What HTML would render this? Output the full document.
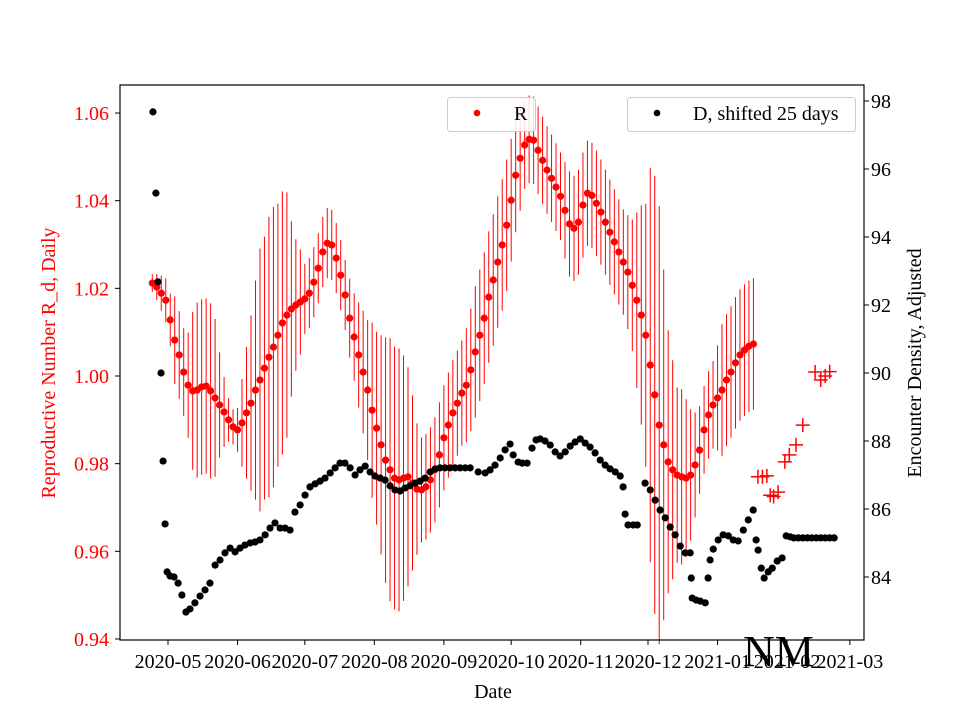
<!DOCTYPE html>
<html><head><meta charset="utf-8"><style>
body{margin:0;background:#fff}
svg{display:block;font-family:"Liberation Serif",serif}
</style></head><body>
<svg id="c" width="960" height="720" xmlns="http://www.w3.org/2000/svg"></svg>
<script>
// ---- data (day offsets from 2020-05-01) ----
const rStartDay = -7;
const rStepDays = 2;
const rValues = [1.0212,1.0203,1.0189,1.0173,1.0128,1.0082,1.0048,1.0009,0.9979,0.9966,0.9968,0.9975,0.9977,0.9966,0.9950,0.9934,0.9918,0.9900,0.9884,0.9877,0.9893,0.9916,0.9938,0.9968,0.9991,1.0018,1.0043,1.0066,1.0093,1.0121,1.0139,1.0153,1.0162,1.0169,1.0176,1.0189,1.0214,1.0246,1.0283,1.0303,1.0299,1.0269,1.0230,1.0185,1.0132,1.0089,1.0048,1.0009,0.9968,0.9922,0.9881,0.9843,0.9808,0.9786,0.9767,0.9763,0.9767,0.9770,0.9756,0.9742,0.9740,0.9747,0.9763,0.9786,0.9820,0.9859,0.9888,0.9916,0.9938,0.9961,0.9979,1.0014,1.0055,1.0093,1.0132,1.0180,1.0219,1.0260,1.0299,1.0344,1.0401,1.0458,1.0497,1.0527,1.0540,1.0538,1.0515,1.0492,1.0470,1.0451,1.0431,1.0410,1.0378,1.0347,1.0337,1.0351,1.0390,1.0417,1.0412,1.0394,1.0374,1.0351,1.0328,1.0306,1.0283,1.0260,1.0237,1.0207,1.0173,1.0139,1.0093,1.0025,0.9957,0.9888,0.9843,0.9804,0.9786,0.9774,0.9770,0.9767,0.9774,0.9797,0.9831,0.9877,0.9911,0.9934,0.9950,0.9968,0.9991,1.0009,1.0030,1.0048,1.0059,1.0068,1.0073];
const rErrors = [0.002,0.003,0.004,0.005,0.006,0.01,0.01,0.01,0.012,0.018,0.02,0.02,0.02,0.02,0.018,0.012,0.008,0.005,0.004,0.005,0.01,0.015,0.02,0.025,0.03,0.03,0.032,0.032,0.03,0.03,0.028,0.02,0.015,0.012,0.008,0.008,0.008,0.008,0.008,0.008,0.008,0.008,0.008,0.008,0.009,0.01,0.012,0.014,0.016,0.02,0.022,0.025,0.028,0.03,0.03,0.03,0.028,0.025,0.02,0.015,0.012,0.012,0.012,0.012,0.012,0.012,0.012,0.012,0.012,0.012,0.013,0.014,0.015,0.015,0.015,0.015,0.015,0.015,0.015,0.015,0.014,0.013,0.012,0.01,0.01,0.01,0.01,0.01,0.01,0.01,0.01,0.01,0.011,0.012,0.012,0.012,0.012,0.012,0.012,0.012,0.012,0.012,0.012,0.012,0.012,0.012,0.013,0.015,0.02,0.025,0.03,0.045,0.05,0.05,0.04,0.03,0.025,0.02,0.02,0.018,0.015,0.012,0.01,0.01,0.01,0.01,0.012,0.015,0.015,0.015,0.015,0.015,0.015,0.015,0.015];
const plusDays = [263,265,267,268.5,270,272,275,277,280,283,288.5,291,293,295];
const plusValues = [0.977,0.977,0.9772,0.9728,0.9725,0.9735,0.9804,0.982,0.9843,0.9888,1.0009,0.9991,1.0,1.001];
const dDays = [-6.7,-5.4,-4.5,-3.1,-2.2,-1.3,-0.4,0.9,2.7,4.5,6.2,8,9.8,12,14.3,16.5,18.7,21,23.2,25.4,27.7,29.9,32.1,34.3,36.6,38.8,41,43.3,45.5,47.7,50,52.2,54.4,56.6,58.9,61.1,63.3,65.6,67.8,70,72.3,74.5,76.7,78.9,81.2,83.4,85.6,87.9,90.1,92.3,94.6,96.8,99,101.2,103.5,105.7,107.9,110.2,112.4,114.6,116.9,119.1,121.3,123.5,125.8,128,130.2,132.5,134.7,138.3,141.4,143.6,145.8,148.1,150.3,152.5,153.9,156.1,157.9,160.1,162.3,164.1,165.9,168.1,170.4,172.6,174.8,177.1,179.3,181.5,183.8,186,188.2,190.4,192.7,194.9,197.1,199.4,201.6,202.9,203.8,205.1,207.4,209.2,212.7,215,217.2,219.4,221.7,223.9,226.1,228.4,230.6,232.8,233.3,233.7,235.5,237.3,239.5,240.8,241.7,243.1,245.3,247.5,249.8,252,254.2,256.5,258.7,260.9,262.2,263.1,264.5,265.8,267.6,269.4,271.6,273.8,275.6,277.4,279,281,283,285,287,289,291,293,295,297];
const dValues = [97.68,95.29,92.68,90.0,87.41,85.56,84.15,84.03,84.0,83.82,83.47,82.97,83.06,83.24,83.44,83.62,83.82,84.35,84.5,84.71,84.85,84.74,84.85,84.94,85.0,85.03,85.09,85.24,85.44,85.59,85.44,85.44,85.38,85.91,86.12,86.41,86.65,86.74,86.82,86.91,87.06,87.21,87.35,87.35,87.21,87.0,87.15,87.26,87.09,86.97,86.91,86.85,86.68,86.56,86.53,86.62,86.68,86.76,86.82,86.91,87.09,87.18,87.21,87.21,87.21,87.21,87.21,87.21,87.21,87.09,87.06,87.15,87.29,87.5,87.74,87.91,87.59,87.38,87.35,87.35,87.79,88.03,88.06,88.0,87.88,87.68,87.56,87.68,87.85,87.97,88.06,87.94,87.82,87.65,87.44,87.29,87.18,87.09,86.97,86.65,85.85,85.53,85.53,85.53,86.76,86.56,86.26,85.97,85.74,85.47,85.24,84.91,84.71,84.71,83.97,83.38,83.32,83.29,83.24,83.97,84.5,84.82,85.09,85.24,85.21,85.09,85.06,85.38,85.68,85.97,85.09,84.79,84.26,83.97,84.15,84.26,84.47,84.56,85.21,85.18,85.15,85.15,85.15,85.15,85.15,85.15,85.15,85.15,85.15,85.15];
const xTickDays = [0,31,61,92,123,153,184,214,245,276,304];
const xTickLabels = ["2020-05","2020-06","2020-07","2020-08","2020-09","2020-10","2020-11","2020-12","2021-01","2021-02","2021-03"];
const yLeftTicks = [0.94,0.96,0.98,1.00,1.02,1.04,1.06];
const yRightTicks = [84,86,88,90,92,94,96,98];

// ---- scales ----
const X = d => 168 + d * 2.243;
const YL = v => 376 - (v - 1) * 4383;
const YR = v => 373 - (v - 90) * 34;
const NS = "http://www.w3.org/2000/svg";
const svg = document.getElementById('c');
function mk(tag, attrs, parent) {
  const e = document.createElementNS(NS, tag);
  for (const k in attrs) e.setAttribute(k, attrs[k]);
  (parent || svg).appendChild(e);
  return e;
}
const L = 120, R = 864, T = 85, B = 640;

const gR = mk('g', {});


rValues.forEach((v, i) => {
  const x = X(rStartDay + i * rStepDays);
  const e = rErrors[i];
  const ln = mk('line', {x1: x, x2: x, y1: YL(v + e), y2: YL(v - e), stroke: 'red', 'stroke-width': 1}, gR);
  
  
});
rValues.forEach((v, i) => {
  const c = mk('circle', {cx: X(rStartDay + i * rStepDays), cy: YL(v), r: 3.6, fill: 'red'}, gR);
  
  
});
plusDays.forEach((d, i) => {
  const x = X(d), y = YL(plusValues[i]);
  const p = mk('path', {d: `M${x-7},${y}H${x+7}M${x},${y-7}V${y+7}`, stroke: 'red', 'stroke-width': 1.5, fill: 'none'}, gR);
  
  
});
const gD = mk('g', {});


dDays.forEach((d, i) => {
  const c = mk('circle', {cx: X(d), cy: YR(dValues[i]), r: 3.6, fill: 'black'}, gD);
  
  
});

const fr = mk('rect', {x: L, y: T, width: R - L, height: B - T, fill: 'none', stroke: 'black', 'stroke-width': 1.2});



xTickDays.forEach((d, i) => {
  const x = X(d);
  mk('line', {x1: x, x2: x, y1: B, y2: B + 5, stroke: 'black'});
  const t = mk('text', {x: x, y: B + 28, 'text-anchor': 'middle', 'font-size': 20});
  t.textContent = xTickLabels[i];
  
  
});
yLeftTicks.forEach(v => {
  const y = YL(v);
  mk('line', {x1: L - 5, x2: L, y1: y, y2: y, stroke: 'black'});
  const t = mk('text', {x: L - 11, y: y + 7, 'text-anchor': 'end', 'font-size': 20, fill: 'red'});
  t.textContent = v.toFixed(2);
  
  
});
yRightTicks.forEach(v => {
  const y = YR(v);
  mk('line', {x1: R, x2: R + 5, y1: y, y2: y, stroke: 'black'});
  const t = mk('text', {x: R + 7, y: y + 7, 'font-size': 20});
  t.textContent = v;
  
  
});
</script>
<script>
(function(){
const NS="http://www.w3.org/2000/svg", svg=document.getElementById('c');
function add(html){const g=document.createElementNS(NS,'g');g.innerHTML=html;svg.appendChild(g);}
add(`<text x="493" y="698" text-anchor="middle" font-size="20">Date</text>
<text transform="translate(55,363) rotate(-90)" text-anchor="middle" font-size="20" fill="red">Reproductive Number R_d, Daily</text>
<text transform="translate(921,363) rotate(-90)" text-anchor="middle" font-size="20">Encounter Density, Adjusted</text>
<g><rect x="447.5" y="97.5" width="88" height="34" rx="3" fill="#fff" fill-opacity="0.85" stroke="#ccc"/><circle cx="477" cy="113" r="3.3" fill="red"/><text x="514" y="120" font-size="20">R</text></g>
<g><rect x="627.5" y="97.5" width="228" height="34" rx="3" fill="#fff" fill-opacity="0.85" stroke="#ccc"/><circle cx="657" cy="113" r="3.3" fill="black"/><text x="693" y="120" font-size="20">D, shifted 25 days</text></g>
<text x="743" y="666" font-size="44">NM</text>`);
})();
</script>
</body></html>
